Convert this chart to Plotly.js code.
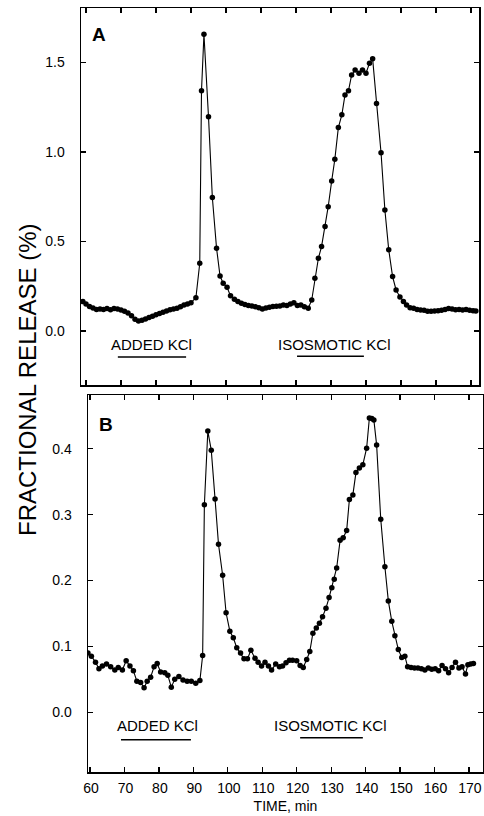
<!DOCTYPE html>
<html>
<head>
<meta charset="utf-8">
<script src="https://cdn.plot.ly/plotly-3.0.1.min.js"></script>
<style>html,body{margin:0;padding:0;background:#fff;}#chart{width:484px;height:816px;}</style>
</head>
<body>
<div id="chart"></div>
<script>
// ---------- DATA ----------
const timeA = [59.1,60,61,62,63,64,65,66,67,68,69,70,71,72,73,74,75,76,77,78,79,80,81,82,83,84,85,86,87,88,89,90,91.4,92.5,93,93.7,95,96.1,97.3,98.3,99.2,100.3,101.3,102.4,103.4,104.4,105.4,106.4,107.4,108.4,109.4,110.4,111.4,112.4,113.4,114.4,115.4,116.4,117.4,118.4,119.4,120.4,121.4,122.4,123.5,124.5,125.4,126.4,127.3,128.3,129.2,130.2,131.1,132.1,133.1,134,135,135.9,136.9,138,139,140,141,141.9,143,144.3,145.4,146.5,147.6,148.6,149.7,150.7,151.6,152.6,153.6,154.6,155.6,156.6,157.6,158.6,159.6,160.6,161.6,162.6,163.6,164.6,165.6,166.6,167.6,168.6,169.6,170.6,171.4];
const releaseA = [0.164,0.15,0.137,0.128,0.12,0.122,0.12,0.125,0.118,0.125,0.122,0.117,0.11,0.1,0.085,0.065,0.055,0.06,0.067,0.075,0.082,0.09,0.097,0.105,0.112,0.118,0.122,0.127,0.135,0.145,0.15,0.158,0.185,0.378,1.342,1.657,1.197,0.745,0.462,0.307,0.266,0.244,0.196,0.177,0.165,0.155,0.148,0.142,0.14,0.135,0.13,0.123,0.128,0.132,0.136,0.138,0.14,0.145,0.142,0.15,0.158,0.142,0.145,0.135,0.127,0.173,0.294,0.406,0.471,0.583,0.694,0.838,0.959,1.136,1.207,1.318,1.342,1.43,1.458,1.44,1.458,1.44,1.496,1.52,1.27,0.995,0.676,0.453,0.304,0.229,0.19,0.164,0.145,0.13,0.127,0.12,0.117,0.115,0.11,0.11,0.112,0.113,0.115,0.12,0.125,0.122,0.118,0.12,0.117,0.12,0.115,0.113,0.112];

const timeB = [59.4,60.4,61.6,62.6,63.6,64.8,66,67.2,68.2,69.4,70.5,71.6,72.6,73.6,74.7,75.7,76.6,77.6,78.6,79.5,80.5,81.7,82.6,83.6,84.6,85.8,87,88.2,89.4,90.7,91.9,92.7,93.2,94.2,95.2,96.3,97.3,98.5,99.5,100.6,101.6,102.6,103.7,104.7,105.7,106.7,107.9,108.8,109.8,110.8,111.8,112.7,113.9,115,115.9,116.9,117.9,118.8,120,121,121.9,122.9,123.8,124.7,125.7,126.6,127.5,128.5,129.4,130.2,130.9,131.6,132.6,133.5,134.5,135.3,136.3,137.2,138.2,139.2,140.3,141.1,141.8,142.4,143.2,144.4,145.6,146.6,147.6,148.5,149.5,150.5,151.4,152.2,153.2,154.2,155.2,156.2,157.2,158.2,159.2,160.2,161.2,162.2,163.2,164.1,165.1,166.1,167.1,168,169,169.7,170.5,171.3];
const releaseB = [0.09,0.085,0.076,0.066,0.07,0.073,0.069,0.064,0.068,0.064,0.078,0.07,0.063,0.047,0.045,0.037,0.047,0.053,0.069,0.074,0.061,0.06,0.056,0.038,0.05,0.054,0.049,0.047,0.047,0.044,0.048,0.086,0.315,0.427,0.398,0.324,0.255,0.208,0.151,0.123,0.113,0.098,0.09,0.081,0.081,0.094,0.082,0.076,0.07,0.076,0.07,0.064,0.073,0.069,0.07,0.075,0.079,0.079,0.078,0.071,0.068,0.08,0.092,0.12,0.128,0.135,0.145,0.158,0.174,0.189,0.202,0.219,0.261,0.265,0.276,0.323,0.33,0.364,0.371,0.376,0.401,0.447,0.446,0.444,0.406,0.293,0.221,0.169,0.138,0.116,0.095,0.083,0.085,0.069,0.068,0.067,0.067,0.066,0.064,0.067,0.065,0.066,0.063,0.071,0.066,0.06,0.068,0.076,0.067,0.069,0.058,0.072,0.073,0.074];

// treatment periods (min)
const addedKClA = [69.1, 88.6];
const isosmoticKClA = [120.3, 139.4];
const addedKClB = [69.0, 89.3];
const isosmoticKClB = [121.0, 139.2];
const treatmentLabels = ["ADDED KCl", "ISOSMOTIC KCl"];
const panelLabels = ["A", "B"];
const xTicks = [60,70,80,90,100,110,120,130,140,150,160,170];
const yTicksA = [0, 0.5, 1.0, 1.5];
const yTicksB = [0, 0.1, 0.2, 0.3, 0.4];

// ---------- CHART ----------
const FONT = "Liberation Sans, Arial, sans-serif";
const W = 484, H = 816;
const px = v => v / W;
const py = v => 1 - v / H;

const lineStyle = {color: "#000", width: 1.1};
const markerStyle = {color: "#000", size: 5.5};

const traces = [
  {x: timeA, y: releaseA, xaxis: "x", yaxis: "y", mode: "lines+markers",
   line: lineStyle, marker: markerStyle, hoverinfo: "skip"},
  {x: timeB, y: releaseB, xaxis: "x2", yaxis: "y2", mode: "lines+markers",
   line: lineStyle, marker: markerStyle, hoverinfo: "skip"}
];

const axisCommon = {
  showgrid: false, zeroline: false, showline: true, linecolor: "#000", linewidth: 1.5,
  mirror: "ticks", ticks: "inside", ticklen: 5, tickwidth: 1.2, tickcolor: "#000",
  tickfont: {family: FONT, size: 14, color: "#000"}, tickmode: "array"
};

function bar(range, y, xr, yr) {
  return {type: "line", xref: xr, yref: yr, x0: range[0], x1: range[1], y0: y, y1: y,
          line: {color: "#000", width: 1.5}};
}
function label(text, xr, yr, x, y, size, extra) {
  return Object.assign({text: text, xref: xr, yref: yr, x: x, y: y, showarrow: false,
    xanchor: "center", yanchor: "middle", font: {family: FONT, size: size, color: "#000"}}, extra || {});
}

const layout = {
  width: W, height: H,
  margin: {l: 0, r: 0, t: 0, b: 0},
  paper_bgcolor: "#fff", plot_bgcolor: "#fff",
  showlegend: false,
  font: {family: FONT, color: "#000"},
  xaxis: Object.assign({}, axisCommon, {
    domain: [px(81), px(479)], range: [58.57, 172.29], anchor: "y",
    tickvals: xTicks, showticklabels: false
  }),
  yaxis: Object.assign({}, axisCommon, {
    domain: [py(385), py(8)], range: [-0.302, 1.804], anchor: "x",
    tickvals: yTicksA, tickformat: ".1f", ticklabelstandoff: 12
  }),
  xaxis2: Object.assign({}, axisCommon, {
    domain: [px(88), px(483)], range: [59.42, 174.08], anchor: "y2",
    tickvals: xTicks, ticklabelshift: 1, ticklabelstandoff: 3, ticklabeloverflow: "allow",
    title: {text: "TIME, min", font: {family: FONT, size: 14, color: "#000"}, standoff: 6}
  }),
  yaxis2: Object.assign({}, axisCommon, {
    domain: [py(772), py(395)], range: [-0.0909, 0.4818], anchor: "x2",
    tickvals: yTicksB, tickformat: ".1f", ticklabelstandoff: 12
  }),
  shapes: [
    bar(addedKClA, -0.145, "x", "y"),
    bar(isosmoticKClA, -0.142, "x", "y"),
    bar(addedKClB, -0.042, "x2", "y2"),
    bar(isosmoticKClB, -0.039, "x2", "y2")
  ],
  annotations: [
    label(treatmentLabels[0], "x", "y", 78.6, -0.073, 15),
    label(treatmentLabels[1], "x", "y", 131, -0.073, 15),
    label(treatmentLabels[0], "x2", "y2", 79.6, -0.02, 15),
    label(treatmentLabels[1], "x2", "y2", 129.9, -0.02, 15),
    label("<b>" + panelLabels[0] + "</b>", "paper", "paper", px(99), py(35), 19),
    label("<b>" + panelLabels[1] + "</b>", "paper", "paper", px(106), py(424), 19),
    label("FRACTIONAL RELEASE (%)", "paper", "paper", px(27), py(380), 24, {textangle: -90})
  ]
};

Plotly.newPlot("chart", traces, layout, {displayModeBar: false, staticPlot: true});
</script>
</body>
</html>
